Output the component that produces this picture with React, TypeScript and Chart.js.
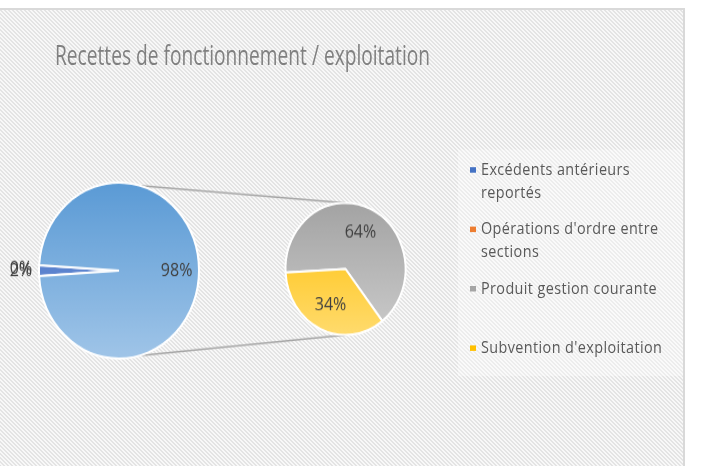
import React, { useEffect, useLayoutEffect, useRef } from "react";
import { Chart, registerables } from "chart.js";

Chart.register(...registerables);

// ---------- data ----------
const TITLE = "Recettes de fonctionnement / exploitation";
const categories = [
  "Excédents antérieurs reportés",
  "Opérations d'ordre entre sections",
  "Produit gestion courante",
  "Subvention d'exploitation",
];
const values = [2, 0, 64, 34];
const splitIndex = 2; // points from this index go to the secondary pie
const otherLabel = "Autre";

// ---------- styles ----------
const baseColors = ["#4472c4", "#ed7d31", "#a5a5a5", "#ffc000"];
const gradPairs: [string, string][] = [
  ["#4472c4", "#7394d8"],
  ["#ed7d31", "#f4b183"],
  ["#a3a3a3", "#cbcbcb"],
  ["#ffbf00", "#ffdb6e"],
];
const otherGrad: [string, string] = ["#5a9ad5", "#a0c5e8"];

const LABEL_FONT = "16px 'Open Sans', sans-serif";
const LABEL_COLOR = "#404040";
const TITLE_WIDTH = 375;

const hatchSvg =
  "<svg xmlns='http://www.w3.org/2000/svg' width='4' height='4' shape-rendering='crispEdges'>" +
  "<rect width='4' height='4' fill='#f8f8f8'/>" +
  "<path d='M0 0h2v1H0zM1 1h2v1H1zM2 2h2v1H2zM3 3h1v1H3zM0 3h1v1H0z' fill='#e4e4e4'/></svg>";
const hatchUrl = `url("data:image/svg+xml,${encodeURIComponent(hatchSvg)}")`;

const total = values.reduce((a, b) => a + b, 0);
const pct = (v: number) => Math.round((v / total) * 100) + "%";

const mainValues = [...values.slice(0, splitIndex), values.slice(splitIndex).reduce((a, b) => a + b, 0)];
const mainLabels = [...categories.slice(0, splitIndex), otherLabel];
const secValues = values.slice(splitIndex);
const secLabels = categories.slice(splitIndex);

function gradient(ctx: any, pair: [string, string]) {
  const chart = ctx.chart;
  const a = chart.chartArea;
  if (!a) return pair[0];
  const g = chart.ctx.createLinearGradient(0, a.top, 0, a.bottom);
  g.addColorStop(0, pair[0]);
  g.addColorStop(1, pair[1]);
  return g;
}

function arcGeom(arc: any) {
  return arc.getProps(["x", "y", "startAngle", "endAngle", "outerRadius"], true);
}

export default function App() {
  const mainRef = useRef<HTMLCanvasElement>(null);
  const secRef = useRef<HTMLCanvasElement>(null);
  const titleRef = useRef<HTMLSpanElement>(null);

  useLayoutEffect(() => {
    const el = titleRef.current;
    if (!el) return;
    const w = el.offsetWidth;
    if (w > 0) el.style.transform = `scaleX(${TITLE_WIDTH / w})`;
  }, []);

  useEffect(() => {
    if (!mainRef.current || !secRef.current) return;

    const secLabelPlugin = {
      id: "secLabels",
      afterDatasetsDraw(chart: any) {
        const ctx = chart.ctx;
        const meta = chart.getDatasetMeta(0);
        ctx.save();
        ctx.font = LABEL_FONT;
        ctx.fillStyle = LABEL_COLOR;
        ctx.textAlign = "center";
        ctx.textBaseline = "middle";
        meta.data.forEach((arc: any, i: number) => {
          const g = arcGeom(arc);
          const mid = (g.startAngle + g.endAngle) / 2;
          const d = g.outerRadius * 0.6;
          ctx.fillText(pct(secValues[i]), g.x + Math.cos(mid) * d, g.y + Math.sin(mid) * d);
        });
        ctx.restore();
      },
    };

    const secChart = new Chart(secRef.current, {
      type: "pie",
      data: {
        labels: secLabels,
        datasets: [
          {
            data: secValues,
            backgroundColor: (c: any) => gradient(c, gradPairs[splitIndex + c.dataIndex]),
            borderColor: "#ffffff",
            borderWidth: 2,
          },
        ],
      },
      options: {
        responsive: false,
        animation: false,
        events: [],
        rotation: 267,
        layout: { padding: { left: 284.5, right: 312.5, top: 183.5, bottom: 118.5 } },
        plugins: { legend: { display: false }, tooltip: { enabled: false }, title: { display: false } },
      },
      plugins: [secLabelPlugin],
    });

    const mainPlugin = {
      id: "mainExtras",
      beforeDatasetsDraw(chart: any) {
        const ctx = chart.ctx;
        const meta = chart.getDatasetMeta(0);
        const g = arcGeom(meta.data[0]);
        const sm = secChart.getDatasetMeta(0);
        const s = arcGeom(sm.data[0]);
        const a = (-75 * Math.PI) / 180;
        ctx.save();
        ctx.strokeStyle = "#a6a6a6";
        ctx.lineWidth = 1.5;
        ctx.beginPath();
        ctx.moveTo(g.x + Math.cos(a) * g.outerRadius, g.y + Math.sin(a) * g.outerRadius);
        ctx.lineTo(s.x, s.y - s.outerRadius);
        ctx.moveTo(g.x + Math.cos(-a) * g.outerRadius, g.y + Math.sin(-a) * g.outerRadius);
        ctx.lineTo(s.x, s.y + s.outerRadius);
        ctx.stroke();
        ctx.restore();
      },
      afterDatasetsDraw(chart: any) {
        const ctx = chart.ctx;
        const meta = chart.getDatasetMeta(0);
        ctx.save();
        ctx.font = LABEL_FONT;
        ctx.fillStyle = LABEL_COLOR;
        ctx.textBaseline = "middle";
        meta.data.forEach((arc: any, i: number) => {
          const g = arcGeom(arc);
          const mid = (g.startAngle + g.endAngle) / 2;
          const text = pct(mainValues[i]);
          if (i < splitIndex) {
            ctx.textAlign = "right";
            ctx.fillText(text, g.x + Math.cos(mid) * (g.outerRadius + 7), g.y + Math.sin(mid) * g.outerRadius * 0.35);
          } else {
            ctx.textAlign = "center";
            const d = g.outerRadius * 0.72;
            ctx.fillText(text, g.x + Math.cos(mid) * d, g.y + Math.sin(mid) * d);
          }
        });
        ctx.restore();
      },
    };

    const smallShare = values.slice(0, splitIndex).reduce((a, b) => a + b, 0) / total;
    const mainChart = new Chart(mainRef.current, {
      type: "pie",
      data: {
        labels: mainLabels,
        datasets: [
          {
            data: mainValues,
            backgroundColor: (c: any) =>
              gradient(c, c.dataIndex < splitIndex ? gradPairs[c.dataIndex] : otherGrad),
            borderColor: "#ffffff",
            borderWidth: 2,
          },
        ],
      },
      options: {
        responsive: false,
        animation: false,
        events: [],
        rotation: 270 - smallShare * 180,
        layout: { padding: { left: 38, right: 519, top: 165, bottom: 97 } },
        plugins: { legend: { display: false }, tooltip: { enabled: false }, title: { display: false } },
      },
      plugins: [mainPlugin],
    });

    return () => {
      mainChart.destroy();
      secChart.destroy();
    };
  }, []);

  const legendTops = [143, 197, 251, 305];

  return (
    <div style={{ position: "fixed", left: 0, top: 0, width: 719, height: 466, background: "#ffffff", overflow: "hidden" }}>
      <div
        style={{
          position: "absolute",
          left: 0,
          top: 8,
          width: 683,
          height: 470,
          borderTop: "2px solid #d9d9d9",
          borderRight: "2px solid #d9d9d9",
          backgroundImage: hatchUrl,
          backgroundRepeat: "repeat",
        }}
      />
      <div style={{ position: "absolute", left: 0, top: 0, width: 719, height: 424, transform: "scaleY(1.1)", transformOrigin: "0 0" }}>
        <div style={{ position: "absolute", left: 458, top: 136, width: 225, height: 206, background: "rgba(255,255,255,0.35)" }} />
        <canvas ref={mainRef} width={719} height={424} style={{ position: "absolute", left: 0, top: 0, width: 719, height: 424 }} />
        <canvas ref={secRef} width={719} height={424} style={{ position: "absolute", left: 0, top: 0, width: 719, height: 424 }} />
        <div style={{ position: "absolute", left: 55, top: 33.7, whiteSpace: "nowrap" }}>
          <span
            ref={titleRef}
            style={{
              display: "inline-block",
              transformOrigin: "0 0",
              fontFamily: "'Open Sans', sans-serif",
              fontWeight: 400,
              fontSize: 25.4,
              lineHeight: "30px",
              color: "#808080",
            }}
          >
            {TITLE}
          </span>
        </div>
        {categories.map((c, i) => (
          <div key={c}>
            <div
              style={{
                position: "absolute",
                left: 470,
                top: legendTops[i] + 16.1 - 4.8 - 2.75,
                width: 6,
                height: 5.5,
                background: baseColors[i],
              }}
            />
            <div
              style={{
                position: "absolute",
                left: 481,
                top: legendTops[i],
                width: 200,
                fontFamily: "'Open Sans', sans-serif",
                fontSize: 14.4,
                letterSpacing: 0.4,
                lineHeight: "21px",
                color: "#595959",
              }}
            >
              {c}
            </div>
          </div>
        ))}
      </div>
    </div>
  );
}
